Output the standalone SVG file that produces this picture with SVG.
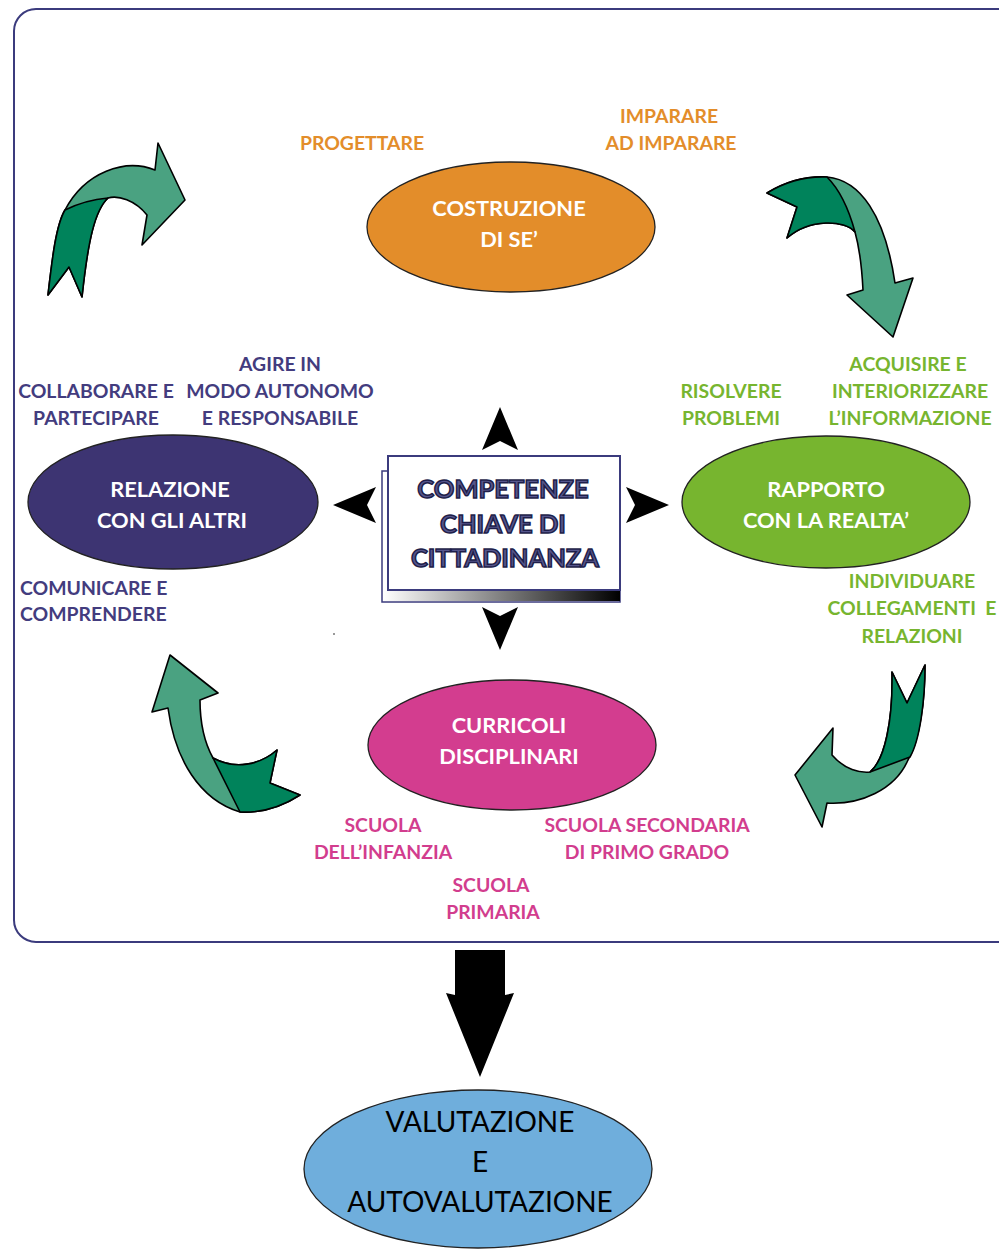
<svg xmlns="http://www.w3.org/2000/svg" width="999" height="1251" viewBox="0 0 999 1251">
<defs>
<style>
text{font-family:Lato,"Open Sans","Noto Sans",sans-serif;font-weight:bold;text-anchor:middle}
.lbl{font-size:19.4px}
.o{fill:#E38D2A}.p{fill:#433C7E}.g{fill:#77B52F}.m{fill:#D23D8E}
.in{font-size:21.8px;fill:#fff}
.ell{stroke:#222;stroke-width:1.3}
.la{fill:#4AA281;stroke:#000;stroke-width:1.6;stroke-linejoin:round}
.da{fill:#00835B;stroke:#000;stroke-width:1.6;stroke-linejoin:round}
.ah{fill:#000}
</style>
<linearGradient id="sh" x1="0" y1="0" x2="1" y2="0">
<stop offset="0" stop-color="#fff"/><stop offset="1" stop-color="#000"/>
</linearGradient>
</defs>
<rect width="999" height="1251" fill="#fff"/>
<rect x="14" y="9" width="1010" height="933" rx="22" fill="none" stroke="#3B3B7D" stroke-width="2"/>

<g id="costruzione">
<ellipse cx="511" cy="227" rx="144" ry="65" fill="#E38D2A" class="ell"/>
<text class="in" x="509" y="216">COSTRUZIONE</text>
<text class="in" x="509" y="247">DI SE’</text>
</g>
<g id="relazione">
<ellipse cx="173" cy="502" rx="145" ry="67" fill="#3D3472" class="ell"/>
<text class="in" x="170" y="497">RELAZIONE</text>
<text class="in" x="172" y="528">CON GLI ALTRI</text>
</g>
<g id="rapporto">
<ellipse cx="826" cy="502" rx="144" ry="66" fill="#77B52F" class="ell"/>
<text class="in" x="826" y="497">RAPPORTO</text>
<text class="in" x="826" y="528">CON LA REALTA’</text>
</g>
<g id="curricoli">
<ellipse cx="512" cy="745" rx="144" ry="65" fill="#D33D8F" class="ell"/>
<text class="in" x="509" y="733">CURRICOLI</text>
<text class="in" x="509" y="764">DISCIPLINARI</text>
</g>
<g id="valutazione">
<ellipse cx="478" cy="1169" rx="174" ry="79" fill="#6FAEDC" class="ell"/>
<text x="480" y="1132" style="font-size:28px;font-weight:normal;fill:#000">VALUTAZIONE</text>
<text x="480" y="1172" style="font-size:28px;font-weight:normal;fill:#000">E</text>
<text x="480" y="1212" style="font-size:28px;font-weight:normal;fill:#000">AUTOVALUTAZIONE</text>
</g>
<g id="competenze">
<rect x="382" y="471" width="238" height="131" fill="#fff" stroke="#3B3B7D" stroke-width="1.5"/>
<rect x="383" y="590" width="237" height="11" fill="url(#sh)"/>
<rect x="388" y="456" width="232" height="134" fill="#fff" stroke="#3B3B7D" stroke-width="2"/>
<g style="font-size:25.5px;fill:#56568C;stroke:#1E1E4A;stroke-width:1.5">
<text x="503" y="498">COMPETENZE</text>
<text x="503" y="533">CHIAVE DI</text>
<text x="505" y="567">CITTADINANZA</text>
</g>
</g>

<g id="labels">
<text class="lbl o" x="362" y="150">PROGETTARE</text>
<text class="lbl o" x="669" y="123">IMPARARE</text>
<text class="lbl o" x="671" y="150">AD IMPARARE</text>
<text class="lbl p" x="280" y="371">AGIRE IN</text>
<text class="lbl p" x="280" y="398">MODO AUTONOMO</text>
<text class="lbl p" x="280" y="425">E RESPONSABILE</text>
<text class="lbl p" x="96" y="398">COLLABORARE E</text>
<text class="lbl p" x="96" y="425">PARTECIPARE</text>
<text class="lbl p" x="20" y="595" style="text-anchor:start">COMUNICARE E</text>
<text class="lbl p" x="20" y="621" style="text-anchor:start">COMPRENDERE</text>
<text class="lbl g" x="731" y="398">RISOLVERE</text>
<text class="lbl g" x="731" y="425">PROBLEMI</text>
<text class="lbl g" x="908" y="371">ACQUISIRE E</text>
<text class="lbl g" x="910" y="398">INTERIORIZZARE</text>
<text class="lbl g" x="910" y="425">L’INFORMAZIONE</text>
<text class="lbl g" x="912" y="588">INDIVIDUARE</text>
<text class="lbl g" x="912" y="615" xml:space="preserve">COLLEGAMENTI  E</text>
<text class="lbl g" x="912" y="643">RELAZIONI</text>
<text class="lbl m" x="383" y="832">SCUOLA</text>
<text class="lbl m" x="383" y="859">DELL’INFANZIA</text>
<text class="lbl m" x="647" y="832">SCUOLA SECONDARIA</text>
<text class="lbl m" x="647" y="859">DI PRIMO GRADO</text>
<text class="lbl m" x="491" y="892">SCUOLA</text>
<text class="lbl m" x="493" y="919">PRIMARIA</text>
</g>
<circle cx="334" cy="634" r="1" fill="#777"/>

<g id="connectors">
<path class="la" d="M48,295 C52,260 56,225 65,210 C85,172 125,158 155,170 L158,143 L185,200 L142,245 L147,215 C135,200 118,195 108,198 C95,210 88,240 82,297 L69,267 Z"/>
<path class="da" d="M48,295 C52,260 56,225 65,210 Q85,200 108,198 C95,210 88,240 82,297 L69,267 Z"/>

<path class="la" d="M767,193 C785,182 805,176 827,177 C860,180 885,215 895,283 L913,278 L893,337 L847,295 L863,290 C862,270 860,250 855,232 C845,220 810,218 787,238 L797,207 Z"/>
<path class="da" d="M767,193 C785,182 805,176 827,177 Q845,195 855,232 C845,220 810,218 787,238 L797,207 Z"/>

<path class="la" d="M170,655 L218,693 L200,700 C200,720 203,740 213,758 C235,770 260,765 277,750 L270,783 L300,795 C280,808 260,813 240,812 C200,800 175,760 168,708 L152,712 Z"/>
<path class="da" d="M213,758 C235,770 260,765 277,750 L270,783 L300,795 C280,808 260,813 240,812 Z"/>

<path class="la" d="M892,672 L907,703 L925,665 C925,700 920,740 908,760 C895,790 860,805 827,803 L822,827 L795,775 L833,728 L832,755 C845,770 860,773 870,772 C885,760 893,720 892,672 Z"/>
<path class="da" d="M892,672 L907,703 L925,665 C925,700 920,740 910,757 L870,772 C885,760 893,720 892,672 Z"/>

<path class="ah" d="M500,407 L518,450 L500,441 L482,450 Z"/>
<path class="ah" d="M500,650 L518,607 L500,616 L482,607 Z"/>
<path class="ah" d="M333,505 L376,487 L367,505 L376,523 Z"/>
<path class="ah" d="M669,505 L626,487 L635,505 L626,523 Z"/>

<path class="ah" d="M455,950 L505,950 L505,995 L514,993 L480,1077 L446,993 L455,995 Z"/>
</g>
</svg>
